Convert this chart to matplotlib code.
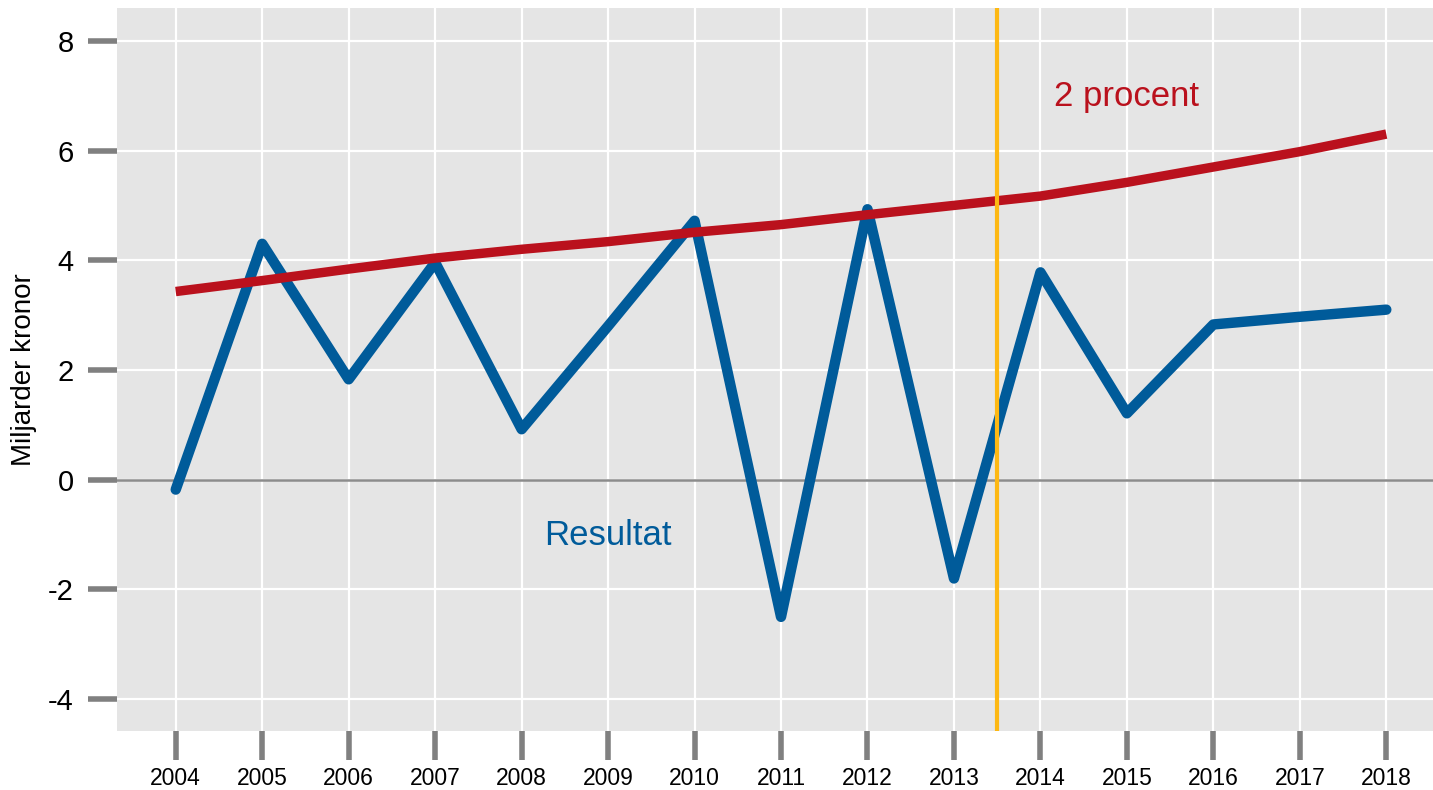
import matplotlib
matplotlib.use("Agg")
import matplotlib.pyplot as plt

years = list(range(2004, 2019))
resultat = [-0.18, 4.3, 1.83, 3.96, 0.92, 2.8, 4.72, -2.5, 4.93, -1.8, 3.78, 1.21, 2.83, 2.97, 3.1]
procent2 = [3.43, 3.63, 3.84, 4.04, 4.2, 4.34, 4.51, 4.65, 4.83, 5.0, 5.17, 5.42, 5.7, 5.98, 6.3]
yticks = [-4, -2, 0, 2, 4, 6, 8]
split_year = 2013.5

plt.rcParams['font.family'] = ['Liberation Sans', 'DejaVu Sans']

fig = plt.figure(figsize=(14.33, 7.90), dpi=100)
ax = fig.add_axes([0.0816, 0.0747, 0.9184, 0.9153])
ax.set_facecolor('#e5e5e5')

ax.set_xlim(2003.32, 2018.54)
ax.set_ylim(-4.58, 8.6)
ax.set_xticks(years)
ax.set_xticklabels([str(y) for y in years], fontsize=16.5)
ax.set_yticks(yticks)
ax.set_yticklabels([str(v) for v in yticks], fontsize=21)
ax.grid(True, color='white', linewidth=1.6)
ax.set_axisbelow(True)
for s in ax.spines.values():
    s.set_visible(False)
ax.tick_params(axis='x', length=21, width=4, color='#808080', pad=5)
ax.tick_params(axis='y', length=21, width=4, color='#808080', pad=10)

ax.axhline(0, color='#8c8c8c', linewidth=1.8, zorder=2)
ax.plot(years, resultat, color='#005b9a', linewidth=7.5, solid_joinstyle='round',
        solid_capstyle='round', zorder=3)
ax.plot(years, procent2, color='#ba111d', linewidth=6.8, solid_capstyle='butt', zorder=3)
ax.axvline(split_year, color='#fdb813', linewidth=3, zorder=4)

ax.text(2009.0, -1.02, 'Resultat', color='#005b9a', fontsize=25, ha='center', va='center')
ax.text(2015.0, 6.98, '2 procent', color='#ba111d', fontsize=25, ha='center', va='center')
ax.set_ylabel('Miljarder kronor', fontsize=20, labelpad=8)

fig.savefig('out.png', dpi=100)
